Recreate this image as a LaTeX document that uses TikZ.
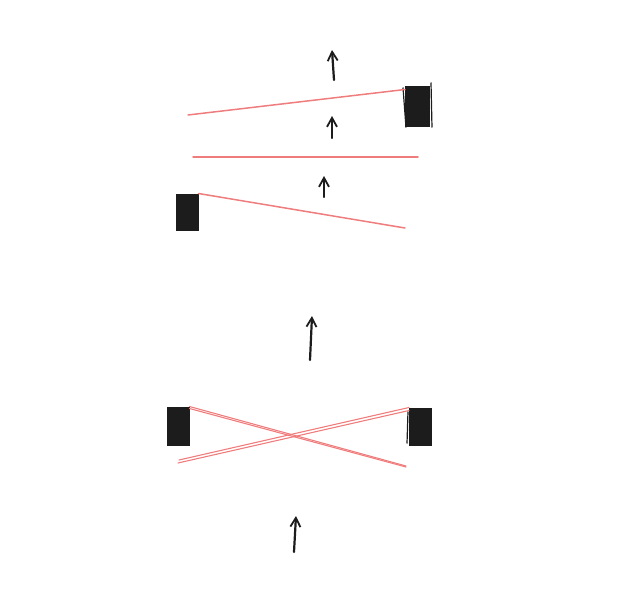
\documentclass[tikz,border=0pt]{standalone}
\usepackage{xcolor}
\usetikzlibrary{arrows.meta,calc,positioning}

\definecolor{laser}{RGB}{240,125,125}
\definecolor{ink}{RGB}{28,28,28}

\tikzset{
  box/.style={draw=ink, fill=ink, line width=1pt, inner sep=0pt, minimum width=#1},
  box/.default=22pt,
  beam/.style={laser, line width=1.5pt, line cap=round},
  flow/.style={ink, line width=2.2pt, line cap=round, -{Straight Barb[length=9pt, width=10pt, line width=1.8pt]}}
}

\begin{document}
\begin{tikzpicture}[x=1pt,y=-1pt]

    \useasboundingbox (0,0) rectangle (622,605);

    % Boxes
    \node[box=24pt, minimum height=40pt] (tr) at (417.5,106) {};
    \node[box, minimum height=36pt] (tl) at (187,212) {};
    \node[box, minimum height=38pt] (bl) at (178,426) {};
    \node[box=22pt, minimum height=37pt] (br) at (420.5,426.5) {};

    % sketchy edges
    \draw[ink, line width=1.2pt] ($(tr.north west)+(-2,2)$) -- ($(tr.south west)+(1,1)$);
    \draw[ink, line width=1.2pt] ($(tr.north east)+(1,-3)$) -- ($(tr.south east)+(2,1)$);
    \draw[ink, line width=1.2pt] ($(br.north west)+(-1,4)$) -- ($(br.south west)+(-2,-2)$);

    % Free beam ends
    \coordinate (e1) at (188,115);
    \coordinate (e2a) at (193,157);
    \coordinate (e2b) at (418,157);
    \coordinate (e3) at (405,228);
    \coordinate (e4) at (406,466);
    \coordinate (e5) at (178,463);

    % Beams
    \draw[beam] (e1) -- ($(tr.north west)+(0,4)$);
    \draw[beam] (e2a) -- (e2b);
    \draw[beam] (tl.north east) -- (e3);
    \draw[beam, line width=1.1pt] (bl.north east) -- (e4);
    \draw[beam, line width=1.1pt] ($(bl.north east)+(0,2)$) -- ($(e4)+(0,1)$);
    \draw[beam, line width=1.1pt] (e5) -- ($(br.north west)+(0,3)$);
    \draw[beam, line width=1.1pt] ($(e5)+(1,-3)$) -- ($(br.north west)+(0,0)$);

    % Arrows
    \foreach \tx/\ty/\hx/\hy in {334/80/332/50, 332/138/332/116, 324/197/324/176,
                                 310/360/312/316, 294/552/296/516} {
        \draw[flow] (\tx,\ty) -- (\hx,\hy);
    }

\end{tikzpicture}
\end{document}
